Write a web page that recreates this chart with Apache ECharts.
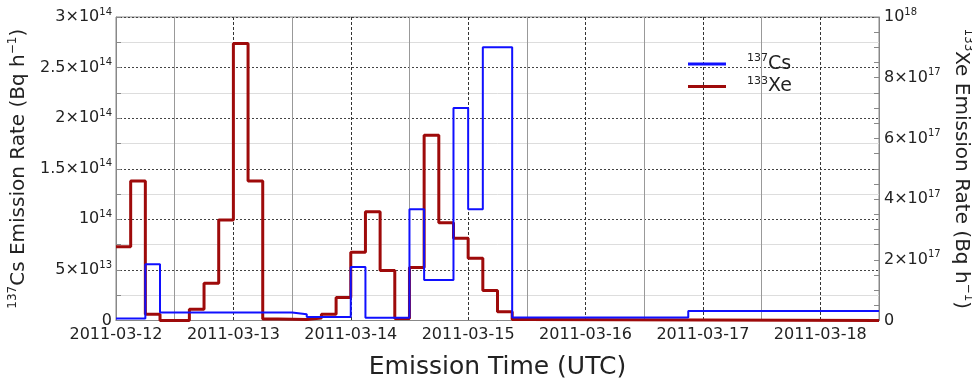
<!DOCTYPE html>
<html>
<head>
<meta charset="utf-8">
<script src="https://cdn.jsdelivr.net/npm/echarts@6/dist/echarts.min.js"></script>
<style>
html,body{margin:0;padding:0;background:#fff;}
#c{width:972px;height:379px;}
</style>
</head>
<body>
<div id="c"></div>
<script>
// Tick labels of the time axis (hours since 2011-03-12 00:00 UTC, one per day)
const dayLabels = ['2011-03-12','2011-03-13','2011-03-14','2011-03-15','2011-03-16','2011-03-17','2011-03-18'];
const endHour = 156;

// 137Cs emission rate (Bq/h): start hour of each constant block and its value
const csStartHours = [0, 6, 9, 36, 39, 48, 51, 60, 63, 69, 72, 75, 81, 117];
const csValues = [2e12, 5.55e13, 8e12, 6.2e12, 3.5e12, 5.3e13, 2.8e12, 1.1e14, 4e13, 2.1e14, 1.1e14, 2.7e14, 3e12, 9.5e12];

// 133Xe emission rate (Bq/h)
const xeStartHours = [0, 3, 6, 9, 15, 18, 21, 24, 27, 30, 33, 39, 42, 45, 48, 51, 54, 57, 60, 63, 66, 69, 72, 75, 78, 81, 84];
const xeValues = [2.43e17, 4.6e17, 2.1e16, 0, 3.7e16, 1.23e17, 3.31e17, 9.13e17, 4.6e17, 5e15, 3e15, 8e15, 2.1e16, 7.6e16, 2.25e17, 3.58e17, 1.65e17, 7e15, 1.75e17, 6.1e17, 3.22e17, 2.71e17, 2.05e17, 9.9e16, 2.9e16, 3e15, 0];

function stepData(starts, vals) {
  const d = starts.map((h, i) => [h, vals[i]]);
  d.push([endHour, vals[vals.length - 1]]);
  return d;
}

function sciLabel(v) {
  if (v === 0) return '{m|0}';
  const e = Math.floor(Math.log10(v) + 1e-9);
  const m = Math.round(v / Math.pow(10, e) * 100) / 100;
  if (m === 1) return '{m|10}{s|' + e + '}';
  return '{m|' + m + '×10}{s|' + e + '}';
}

const labRich = {
  m: {fontSize: 16, color: '#222', lineHeight: 20, fontFamily: 'DejaVu Sans'},
  s: {fontSize: 10, color: '#222', lineHeight: 12, verticalAlign: 'top', fontFamily: 'DejaVu Sans'}
};
const nameRich = {
  n: {fontSize: 20, color: '#222', lineHeight: 25, fontFamily: 'DejaVu Sans'},
  s: {fontSize: 12, color: '#222', lineHeight: 13, verticalAlign: 'top', fontFamily: 'DejaVu Sans'}
};

const chart = echarts.init(document.getElementById('c'), null, {renderer: 'canvas'});
chart.setOption({
  animation: false,
  backgroundColor: '#fff',
  textStyle: {fontFamily: 'DejaVu Sans'},
  grid: {left: 116, right: 93, top: 17, bottom: 58.5, show: true, borderColor: '#888', borderWidth: 1,
         containLabel: false, outerBoundsMode: 'none'},
  legend: {
    orient: 'vertical', left: 683, top: 48, itemWidth: 38, itemHeight: 3, itemGap: 2,
    icon: 'rect',
    formatter: function (name) { return name.replace(/^(\d+)(.*)$/, '{s|$1}{n|$2}'); },
    textStyle: {
      padding: [0, 0, 0, 16],
      rich: {
        n: {fontSize: 19, color: '#222', lineHeight: 22, fontFamily: 'DejaVu Sans'},
        s: {fontSize: 11, color: '#222', lineHeight: 12, verticalAlign: 'top', fontFamily: 'DejaVu Sans'}
      }
    },
    data: ['137Cs', '133Xe']
  },
  xAxis: {
    type: 'value', min: 0, max: endHour, interval: 24,
    axisLine: {show: true, lineStyle: {color: '#888'}},
    axisTick: {show: false},
    minorTick: {show: false, splitNumber: 2},
    axisLabel: {
      fontSize: 16, color: '#222', margin: 6, showMaxLabel: false,
      formatter: function (v) { return (v % 24 === 0) ? (dayLabels[v / 24] || '') : ''; }
    },
    splitLine: {show: true, lineStyle: {color: '#333', type: [3, 2], width: 1}},
    minorSplitLine: {show: true, lineStyle: {color: '#999', width: 1}},
    name: 'Emission Time (UTC)', nameLocation: 'middle', nameGap: 34,
    nameTextStyle: {fontSize: 25, color: '#222'}
  },
  yAxis: [{
    type: 'value', min: 0, max: 3e14, interval: 5e13, position: 'left',
    axisLine: {show: true, lineStyle: {color: '#888'}},
    axisTick: {show: true, inside: true, length: 5, lineStyle: {color: '#888'}},
    minorTick: {show: true, splitNumber: 2, length: 5, lineStyle: {color: '#888'}},
    splitLine: {show: true, lineStyle: {color: '#444', type: [2, 2], width: 1}},
    minorSplitLine: {show: true, lineStyle: {color: '#ddd', width: 1}},
    axisLabel: {margin: 4, formatter: sciLabel, rich: labRich},
    name: '{s|137}{n|Cs Emission Rate (Bq h}{s|−1}{n|)}',
    nameLocation: 'middle', nameRotate: 90, nameGap: 72,
    nameTextStyle: {rich: nameRich}
  }, {
    type: 'value', min: 0, max: 1e18, interval: 2e17, position: 'right',
    axisLine: {show: true, lineStyle: {color: '#888'}},
    axisTick: {show: true, inside: true, length: 5, lineStyle: {color: '#888'}},
    minorTick: {show: true, splitNumber: 4, length: 5, lineStyle: {color: '#888'}},
    splitLine: {show: false},
    axisLabel: {margin: 5, formatter: sciLabel, rich: labRich},
    name: '{s|133}{n|Xe Emission Rate (Bq h}{s|−1}{n|)}',
    nameLocation: 'middle', nameRotate: -90, nameGap: 66,
    nameTextStyle: {rich: nameRich}
  }],
  series: [{
    name: '137Cs', type: 'line', step: 'end', yAxisIndex: 0, showSymbol: false, symbol: 'none',
    z: 3, color: '#1010ff', lineStyle: {width: 2, color: '#1010ff'},
    data: stepData(csStartHours, csValues)
  }, {
    name: '133Xe', type: 'line', step: 'end', yAxisIndex: 1, showSymbol: false, symbol: 'none',
    z: 2, color: '#9e0a0a', lineStyle: {width: 3, color: '#9e0a0a'},
    data: stepData(xeStartHours, xeValues)
  }]
});
</script>
</body>
</html>
